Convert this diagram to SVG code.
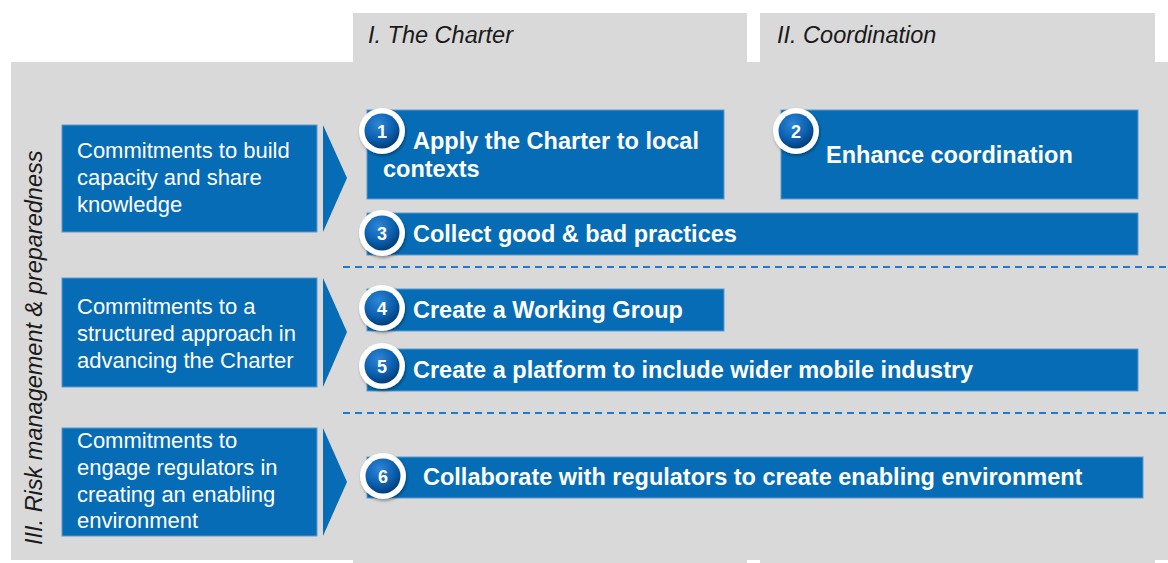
<svg xmlns="http://www.w3.org/2000/svg" width="1168" height="563" viewBox="0 0 1168 563">
<defs>
<style>
.bg{fill:#D9D9D9}
.box{fill:#066CB5;stroke:#5A9AD2;stroke-width:1}
.chev{fill:#066CB5}
.lt{font-family:"Liberation Sans",Arial,sans-serif;font-size:22px;fill:#FFFFFF}
.bt{font-family:"Liberation Sans",Arial,sans-serif;font-size:23.5px;font-weight:bold;fill:#FFFFFF}
.hd{font-family:"Liberation Sans",Arial,sans-serif;font-size:23.5px;font-style:italic;fill:#1A1A1A}
.num{font-family:"Liberation Sans",Arial,sans-serif;font-size:18px;font-weight:bold;fill:#FFFFFF;text-anchor:middle}
.ring{fill:#FFFFFF;filter:url(#sh)}
.core{fill:url(#rg)}
.dash{stroke:#1E7ACB;stroke-width:2;stroke-dasharray:7 5;fill:none}
</style>
<radialGradient id="rg" cx="0.4" cy="0.3" r="0.75">
<stop offset="0" stop-color="#2F86D6"/>
<stop offset="0.6" stop-color="#0A5FAE"/>
<stop offset="1" stop-color="#02386F"/>
</radialGradient>
<filter id="sh" x="-30%" y="-30%" width="160%" height="160%">
<feDropShadow dx="1" dy="2" stdDeviation="1.5" flood-color="#000000" flood-opacity="0.35"/>
</filter>
</defs>
<g id="background">
<rect class="bg" x="11" y="62" width="1157" height="498"/>
<rect class="bg" x="353" y="13" width="394" height="550"/>
<rect class="bg" x="760" y="13" width="395" height="550"/>
</g>
<g id="headers">
<text class="hd" x="368" y="43">I. The Charter</text>
<text class="hd" x="777" y="43">II. Coordination</text>
<text class="hd" transform="translate(42,545) rotate(-90)">III. Risk management &amp; preparedness</text>
</g>
<g id="connectors">
<line class="dash" x1="343" y1="267" x2="1168" y2="267"/>
<line class="dash" x1="343" y1="413" x2="1168" y2="413"/>
<polygon class="chev" points="323,125 347,178 323,232"/>
<polygon class="chev" points="323,278 347,332 323,387"/>
<polygon class="chev" points="323,428 347,482 323,536"/>
</g>
<g id="left1">
<rect class="box" x="62" y="125" width="255" height="107"/>
<text class="lt" x="77" y="158">Commitments to build</text>
<text class="lt" x="77" y="185">capacity and share</text>
<text class="lt" x="77" y="212">knowledge</text>
</g>
<g id="left2">
<rect class="box" x="62" y="278" width="255" height="109"/>
<text class="lt" x="77" y="314">Commitments to a</text>
<text class="lt" x="77" y="341">structured approach in</text>
<text class="lt" x="77" y="368">advancing the Charter</text>
</g>
<g id="left3">
<rect class="box" x="62" y="428" width="255" height="108"/>
<text class="lt" x="77" y="448">Commitments to</text>
<text class="lt" x="77" y="475">engage regulators in</text>
<text class="lt" x="77" y="502">creating an enabling</text>
<text class="lt" x="77" y="528">environment</text>
</g>
<g id="item1">
<rect class="box" x="367" y="110" width="357" height="89"/>
<text class="bt" x="413" y="149">Apply the Charter to local</text>
<text class="bt" x="383" y="177">contexts</text>
<circle class="ring" cx="382" cy="131" r="23"/>
<circle class="core" cx="382" cy="131" r="17.5"/>
<text class="num" x="382" y="137.5">1</text>
</g>
<g id="item2">
<rect class="box" x="781" y="110" width="357" height="89"/>
<text class="bt" x="826" y="163">Enhance coordination</text>
<circle class="ring" cx="796" cy="131" r="23"/>
<circle class="core" cx="796" cy="131" r="17.5"/>
<text class="num" x="796" y="137.5">2</text>
</g>
<g id="item3">
<rect class="box" x="367" y="213" width="771" height="42"/>
<text class="bt" x="413" y="242">Collect good &amp; bad practices</text>
<circle class="ring" cx="382" cy="233" r="23"/>
<circle class="core" cx="382" cy="233" r="17.5"/>
<text class="num" x="382" y="239.5">3</text>
</g>
<g id="item4">
<rect class="box" x="367" y="289" width="357" height="42"/>
<text class="bt" x="413" y="318">Create a Working Group</text>
<circle class="ring" cx="382" cy="308" r="23"/>
<circle class="core" cx="382" cy="308" r="17.5"/>
<text class="num" x="382" y="314.5">4</text>
</g>
<g id="item5">
<rect class="box" x="367" y="349" width="771" height="42"/>
<text class="bt" x="413" y="378">Create a platform to include wider mobile industry</text>
<circle class="ring" cx="382" cy="366" r="23"/>
<circle class="core" cx="382" cy="366" r="17.5"/>
<text class="num" x="382" y="372.5">5</text>
</g>
<g id="item6">
<rect class="box" x="367" y="457" width="776" height="41"/>
<text class="bt" x="423" y="485">Collaborate with regulators to create enabling environment</text>
<circle class="ring" cx="383" cy="476" r="23"/>
<circle class="core" cx="383" cy="476" r="17.5"/>
<text class="num" x="383" y="482.5">6</text>
</g>
</svg>
